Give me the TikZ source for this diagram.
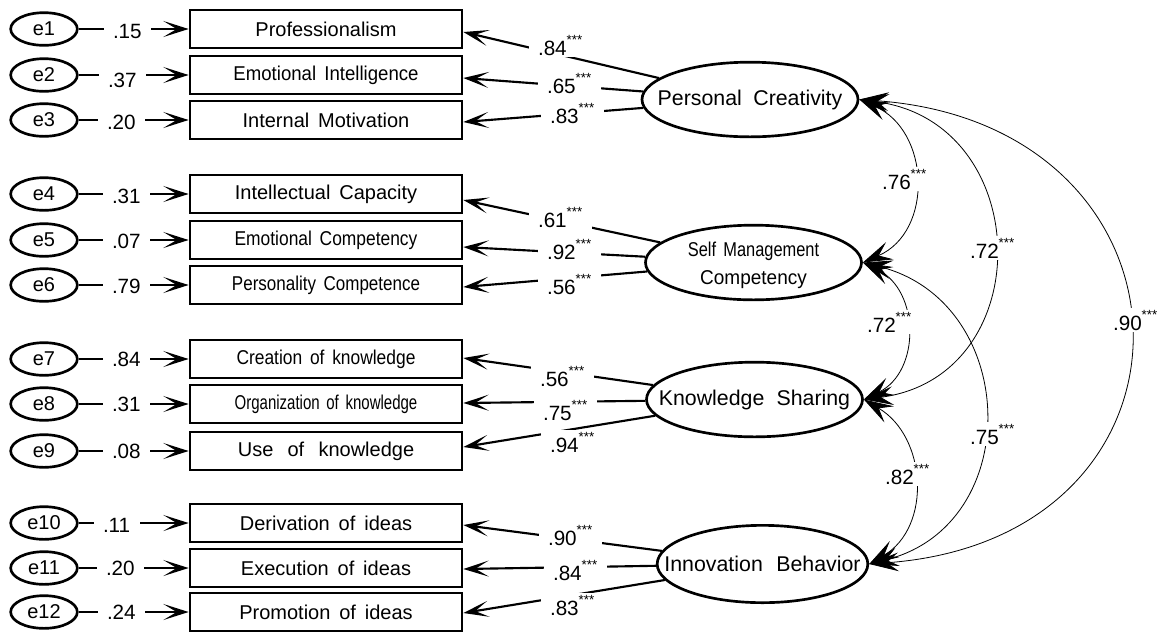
\documentclass[tikz,border=0pt]{standalone}
\usepackage{fontspec}
\setmainfont{Liberation Sans}[WordSpace=1.6]
\usepackage{graphicx}
\usetikzlibrary{arrows.meta,shapes.geometric}
\newcommand{\sg}{\raisebox{8pt}{\fontsize{10}{10}\selectfont ***}}
\newcommand{\cx}[2]{\scalebox{#1}[1]{#2}}
\begin{document}
\begin{tikzpicture}[x=0.75pt,y=-0.75pt,
  font=\fontsize{15}{21}\selectfont,
  obs/.style={draw,line width=2pt,minimum width=204pt,minimum height=28.5pt,inner sep=0pt},
  err/.style={draw,ellipse,line width=2pt,minimum width=50pt,minimum height=24.5pt,inner sep=0pt},
  lat/.style={draw,ellipse,line width=2pt,minimum width=162pt,minimum height=56pt,inner sep=0pt},
  lattext/.style={align=center,inner sep=0pt,font=\fontsize{16}{21}\selectfont},
  ld/.style={line width=1.6pt,-{Stealth[length=19pt,width=12pt,inset=10pt]}},
  cov/.style={line width=0.6pt,{Stealth[length=22pt,width=14pt,inset=9pt]}-{Stealth[length=22pt,width=14pt,inset=9pt]}},
  lbl/.style={fill=white,inner xsep=7pt,inner ysep=1.5pt,anchor=text,font=\fontsize{15.5}{18}\selectfont},
]
\useasboundingbox (0,0) rectangle (1162,633);

% observed variables
\node[obs] (b1) at (326,29) {Professionalism};
\node[obs] (b2) at (326,75) {\cx{0.93}{Emotional Intelligence}};
\node[obs] (b3) at (326,120) {Internal Motivation};
\node[obs] (b4) at (326,194) {Intellectual Capacity};
\node[obs] (b5) at (326,240) {\cx{0.87}{Emotional Competency}};
\node[obs] (b6) at (326,285) {\cx{0.85}{Personality Competence}};
\node[obs] (b7) at (326,359) {\cx{0.87}{Creation of knowledge}};
\node[obs] (b8) at (326,404) {\cx{0.75}{Organization of knowledge}};
\node[obs] (b9) at (326,451) {Use\hspace{4pt} of\hspace{4pt} knowledge};
\node[obs] (b10) at (326,523) {Derivation of ideas};
\node[obs] (b11) at (326,568) {Execution of ideas};
\node[obs] (b12) at (326,612) {Promotion of ideas};

% error terms
\node[err] (e1) at (44,29) {e1};
\node[err] (e2) at (44,75) {e2};
\node[err] (e3) at (44,120) {e3};
\node[err] (e4) at (44,194) {e4};
\node[err] (e5) at (44,240) {e5};
\node[err] (e6) at (44,285) {e6};
\node[err] (e7) at (44,359) {e7};
\node[err] (e8) at (44,404) {e8};
\node[err] (e9) at (44,451) {e9};
\node[err] (e10) at (44,523) {e10};
\node[err] (e11) at (44,568) {e11};
\node[err] (e12) at (44,612) {e12};

% latent variables
\node[lat] (PC) at (750,99.5) {};
\node[lattext] (tPC) at (PC) {Personal\hspace{1.5pt} Creativity};
\node[lat] (SMC) at (753.5,262.5) {};
\node[lattext,font=\fontsize{15}{21}\selectfont] (tSMC) at ([yshift=-2pt]SMC.center) {\cx{0.82}{Self Management}\\\cx{0.95}{Competency}};
\node[lat] (KS) at (754.5,399.5) {};
\node[lattext] (tKS) at (KS) {Knowledge\hspace{2pt} Sharing};
\node[lat,minimum width=158pt,minimum height=58pt] (IB) at (762.5,564) {};
\node[lattext] (tIB) at (IB) {Innovation\hspace{3pt} Behavior};

% error arrows
\foreach \i in {1,...,12} {\draw[ld] (e\i) -- (e\i -| b\i.west);}

% loadings
\draw[ld] (PC) -- ([yshift=-2.25pt]b1.east);
\draw[ld] (PC) -- ([yshift=-2.25pt]b2.east);
\draw[ld] (PC) -- ([yshift=-1.5pt]b3.east);
\draw[ld] (SMC) -- ([yshift=-4.5pt]b4.east);
\draw[ld] (SMC) -- ([yshift=-5.25pt]b5.east);
\draw[ld] (SMC) -- ([yshift=-1.5pt]b6.east);
\draw[ld] (KS) -- ([yshift=0.75pt]b7.east);
\draw[ld] (KS) -- ([yshift=0.75pt]b8.east);
\draw[ld] (KS) -- ([yshift=3pt]b9.east);
\draw[ld] (IB) -- ([yshift=-1.5pt]b10.east);
\draw[ld] (IB) -- ([yshift=-0.75pt]b11.east);
\draw[ld] (IB) -- ([yshift=-0.75pt]b12.east);

% covariances
\draw[cov] (PC.east) .. controls +(71,31) and +(71,-31) .. (SMC.east);
\draw[cov] (PC.east) .. controls +(176,23) and +(176,-23) .. (KS.east);
\draw[cov] (PC.east) .. controls +(353,25) and +(353,-25) .. (IB.east);
\draw[cov] (SMC.east) .. controls +(57,28) and +(57,-28) .. (KS.east);
\draw[cov] (SMC.east) .. controls +(157,39) and +(157,-39) .. (IB.east);
\draw[cov] (KS.east) .. controls +(63,37) and +(63,-37) .. (IB.east);

% error variance labels
\node[lbl] (v1) at (113,38) {.15};
\node[lbl] (v2) at (108,87) {.37};
\node[lbl] (v3) at (107,129) {.20};
\node[lbl] (v4) at (112,203) {.31};
\node[lbl] (v5) at (112,248) {.07};
\node[lbl] (v6) at (112,293) {.79};
\node[lbl] (v7) at (112,366) {.84};
\node[lbl] (v8) at (112,411) {.31};
\node[lbl] (v9) at (112,458) {.08};
\node[lbl] (v10) at (103,532) {.11};
\node[lbl] (v11) at (106,575) {.20};
\node[lbl] (v12) at (107,619) {.24};

% loading labels
\node[lbl] (w1) at (538,55) {.84\sg};
\node[lbl] (w2) at (547,93) {.65\sg};
\node[lbl] (w3) at (550,123) {.83\sg};
\node[lbl] (w4) at (538,227) {.61\sg};
\node[lbl] (w5) at (547,259) {.92\sg};
\node[lbl] (w6) at (547,294) {.56\sg};
\node[lbl] (w7) at (540,386) {.56\sg};
\node[lbl] (w8) at (543,420) {.75\sg};
\node[lbl] (w9) at (550,452) {.94\sg};
\node[lbl] (w10) at (548,545) {.90\sg};
\node[lbl] (w11) at (553,580) {.84\sg};
\node[lbl] (w12) at (550,615) {.83\sg};

% covariance labels
\node[lbl] (c1) at (882,189) {.76\sg};
\node[lbl] (c2) at (970,258) {.72\sg};
\node[lbl] (c3) at (1113,330) {.90\sg};
\node[lbl] (c4) at (867,332) {.72\sg};
\node[lbl] (c5) at (970,444) {.75\sg};
\node[lbl] (c6) at (885,484) {.82\sg};
\end{tikzpicture}
\end{document}
